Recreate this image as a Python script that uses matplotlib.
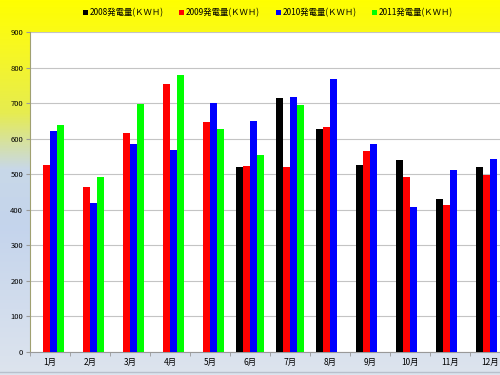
import numpy as np
import matplotlib.pyplot as plt
from matplotlib.colors import LinearSegmentedColormap

plt.rcParams['font.family'] = ['Noto Sans CJK JP', 'DejaVu Sans']

months = ['1月', '2月', '3月', '4月', '5月', '6月', '7月', '8月', '9月', '10月', '11月', '12月']
gen_2008 = [np.nan, np.nan, np.nan, np.nan, np.nan, 520, 714, 627, 526, 540, 430, 520]
gen_2009 = [526, 464, 616, 754, 647, 523, 520, 633, 565, 492, 413, 498]
gen_2010 = [621, 419, 585, 568, 700, 650, 717, 768, 585, 408, 512, 543]
gen_2011 = [638, 492, 697, 779, 627, 554, 695, np.nan, np.nan, np.nan, np.nan, np.nan]
labels = ['2008発電量(ＫＷＨ)', '2009発電量(ＫＷＨ)', '2010発電量(ＫＷＨ)', '2011発電量(ＫＷＨ)']
colors = ['#000000', '#ff0000', '#0000ff', '#00ff00']

fig = plt.figure(figsize=(5, 3.75), dpi=100)

# gradient background
bg = fig.add_axes([0, 0, 1, 1], zorder=0)
cmap = LinearSegmentedColormap.from_list('bg', [
    (0.0, '#ffff00'), (0.12, '#f8f820'), (0.30, '#e6ec50'),
    (0.45, '#c8d8e8'), (0.60, '#c4d4ec'), (1.0, '#dde4ee')])
bg.imshow(np.linspace(0, 1, 256).reshape(-1, 1), aspect='auto', cmap=cmap,
          extent=[0, 1, 0, 1], origin='upper')
bg.axhline(0.008, color='#b8c0cc', linewidth=1)
bg.set_xlim(0, 1)
bg.set_ylim(0, 1)
bg.axis('off')

ax = fig.add_axes([0.06, 0.0613, 0.96, 0.8534], zorder=1)
ax.set_facecolor('white')

x = np.arange(len(months))
w = 0.175
for i, (vals, c, lab) in enumerate(zip([gen_2008, gen_2009, gen_2010, gen_2011], colors, labels)):
    ax.bar(x + (i - 1.5) * w, vals, width=w, color=c, label=lab, zorder=3)

ax.set_xlim(-0.5, len(months) - 0.5)
ax.set_ylim(0, 900)
ax.set_yticks(range(0, 901, 100))
ax.yaxis.grid(True, color='#c4c4c4', linewidth=0.8, zorder=0)
ax.set_xticks(x)
ax.set_xticklabels(months)
ax.set_xticks(np.arange(-0.5, len(months), 1), minor=True)
ax.tick_params(axis='x', which='major', length=0, labelsize=6, pad=4)
ax.tick_params(axis='x', which='minor', length=3, color='#999999')
ax.tick_params(axis='y', labelsize=5.5, length=3, color='#999999', pad=2)
for s in ['top', 'right']:
    ax.spines[s].set_visible(False)
ax.spines['left'].set_color('#a0a070')
ax.spines['bottom'].set_color('#999999')

fig.legend(loc='upper center', bbox_to_anchor=(0.536, 1.0), ncol=4, frameon=False,
           fontsize=6, handlelength=0.6, handleheight=0.6, handletextpad=0.2,
           columnspacing=1.9, borderaxespad=0.6)

fig.savefig('out.png', dpi=100)
